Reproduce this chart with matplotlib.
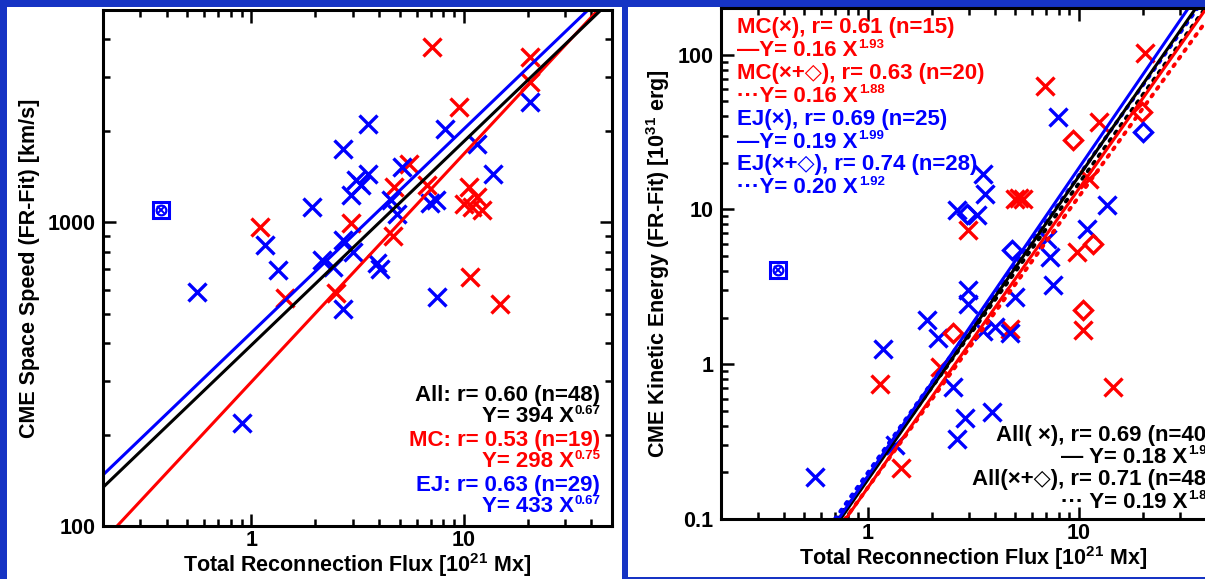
import matplotlib
matplotlib.use("Agg")
import matplotlib.pyplot as plt
import numpy as np
from matplotlib.ticker import LogLocator, FuncFormatter, NullFormatter
from matplotlib.patches import Rectangle

plt.rcParams['font.family'] = ['Liberation Sans', 'DejaVu Sans']
plt.rcParams['font.weight'] = 'bold'
plt.rcParams['axes.labelweight'] = 'bold'
plt.rcParams['mathtext.fontset'] = 'custom'
plt.rcParams['mathtext.rm'] = 'Liberation Sans:bold'
plt.rcParams['mathtext.it'] = 'Liberation Sans:bold'
plt.rcParams['mathtext.bf'] = 'Liberation Sans:bold'

# ---- left panel: speed vs flux ----
mc_flux = [1.10, 1.44, 2.51, 2.95, 4.63, 4.7, 5.53, 6.74, 7.11, 9.48, 10.0, 10.55, 10.9, 11.5, 12.2, 10.7, 14.8, 20.5, 20.5]
mc_speed = [965, 565, 583, 991, 900, 1306, 1560, 1325, 3775, 2393, 1150, 1306, 1122, 1211, 1094, 661, 540, 3500, 2897]
ej_flux = [0.557, 0.904, 1.163, 1.34, 1.92, 2.14, 2.42, 2.70, 2.70, 2.70, 2.95, 3.12, 3.30, 3.53, 3.53,
           3.90, 4.05, 4.54, 4.88, 5.15, 6.98, 7.4, 7.50, 8.21, 11.5, 13.8, 20.5, 3.0]
ej_speed = [590, 218, 840, 695, 1122, 750, 713, 1746, 873, 520, 1227, 1374, 1330, 2113, 1445,
            735, 700, 1180, 1067, 1521, 1160, 1185, 568, 2033, 1815, 1445, 2488, 800]
odd_flux, odd_speed = 0.376, 1094

# fits: (coef, exponent)
fit_all_v = (394, 0.67)
fit_mc_v = (298, 0.75)
fit_ej_v = (433, 0.67)

# ---- right panel: kinetic energy vs flux ----
mcx_flux = [6.90, 12.4, 20.6, 5.0, 5.4, 2.99, 9.75, 11.1, 10.5, 14.5, 1.14, 1.44, 4.71, 2.19, 5.2]
mcx_ek = [63, 36.6, 103, 11.7, 11.7, 7.33, 5.3, 15.8, 1.66, 0.715, 0.75, 0.212, 1.70, 0.96, 11.9]
mcd_flux = [9.4, 19.8, 11.7, 10.5, 2.54]
mcd_ek = [27.9, 42.5, 6.0, 2.23, 1.58]
ejx_flux = [7.98, 3.52, 3.59, 2.63, 3.27, 13.5, 10.9, 7.3, 7.56, 2.99, 2.99, 4.97, 1.90, 2.15,
            4.0, 4.71, 1.18, 2.54, 2.88, 3.85, 2.63, 0.561, 1.34, 7.03, 3.5]
ejx_ek = [39.5, 17.0, 12.6, 9.86, 9.14, 10.6, 7.5, 4.92, 3.24, 3.0, 2.46, 2.72, 1.92, 1.47,
          1.74, 1.58, 1.26, 0.715, 0.446, 0.49, 0.33, 0.187, 0.30, 6.47, 1.65]
ejd_flux = [20.2, 4.80, 2.94]
ejd_ek = [31.6, 5.43, 9.4]
odd_ek = 4.04

fit_mcx = (0.16, 1.93)
fit_mcd = (0.16, 1.88)
fit_ejx = (0.19, 1.99)
fit_ejd = (0.20, 1.92)
fit_allx = (0.18, 1.96)
fit_alld = (0.19, 1.89)

RED = '#ff0000'
BLUE = '#0000ff'
FS = 15.5      # tick labels, axis labels
FS_TXT = 16    # fit annotations
FS_EXP = 9.5   # exponents in the fit annotations
EXP_UP = 4.5   # exponent raise, points

fig = plt.figure(figsize=(12.05, 5.79), dpi=100)
fig.patch.set_facecolor('#1634c4')
# white slide areas
fig.add_artist(Rectangle((7/1205, 0), (622-7)/1205, 572/579, transform=fig.transFigure,
                         facecolor='white', edgecolor='none', zorder=0))
fig.add_artist(Rectangle((628/1205, 2/579), (1205-628)/1205, 570/579, transform=fig.transFigure,
                         facecolor='white', edgecolor='none', zorder=0))


def style_axes(ax):
    ax.set_xscale('log')
    ax.set_yscale('log')
    ax.set_facecolor('none')
    for s in ax.spines.values():
        s.set_linewidth(2.2)
    ax.tick_params(which='both', direction='in', top=True, right=True, width=1.8, labelsize=FS, pad=5)
    ax.tick_params(axis='x', pad=3)
    ax.tick_params(which='major', length=9)
    ax.tick_params(which='minor', length=5)
    ax.xaxis.set_minor_locator(LogLocator(base=10, subs=np.arange(2, 10)))
    ax.yaxis.set_minor_locator(LogLocator(base=10, subs=np.arange(2, 10)))
    ax.xaxis.set_minor_formatter(NullFormatter())
    ax.yaxis.set_minor_formatter(NullFormatter())
    fmt = FuncFormatter(lambda v, p: '%g' % v)
    ax.xaxis.set_major_formatter(fmt)
    ax.yaxis.set_major_formatter(fmt)


def odd_marker(ax, x, y):
    ax.plot(x, y, 's', ms=11, mfc='none', mec=BLUE, mew=2.2)
    ax.plot(x, y, 'o', ms=7, mfc='none', mec=BLUE, mew=1.6)
    ax.plot(x, y, 'x', ms=6, mec=BLUE, mew=1.4)


def power_right(ax, x, yb, base, expo, color):
    # right-aligned "Y= a X" (centre at yb) with small raised exponent at the end
    up = EXP_UP * 100 / 72 / (ax.bbox.height)
    e = ax.text(x, yb + up, expo, fontsize=FS_EXP, color=color, ha='right', va='center',
                transform=ax.transAxes)
    ax.annotate(base, xy=(0, 0.5), xycoords=e, xytext=(-0.5, -EXP_UP), textcoords='offset points',
                fontsize=FS_TXT, color=color, ha='right', va='center')


def power_left(ax, x, yb, base, expo, color):
    b = ax.text(x, yb, base, fontsize=FS_TXT, color=color, ha='left', va='center',
                transform=ax.transAxes)
    ax.annotate(expo, xy=(1, 0.5), xycoords=b, xytext=(0.5, EXP_UP), textcoords='offset points',
                fontsize=FS_EXP, color=color, ha='left', va='center')


xfit = np.logspace(np.log10(0.2), np.log10(50), 200)

# ---------- left panel ----------
ax1 = fig.add_axes([103/1205, 53/579, 509/1205, 516/579])
style_axes(ax1)
ax1.set_xlim(0.2, 50)
ax1.set_ylim(100, 5000)
mk = dict(ls='none', marker='x', ms=13, mew=2.4)
ax1.plot(mc_flux, mc_speed, color=RED, **mk)
ax1.plot(ej_flux, ej_speed, color=BLUE, **mk)
odd_marker(ax1, odd_flux, odd_speed)
ax1.plot(xfit, fit_mc_v[0] * xfit ** fit_mc_v[1], color=RED, lw=2.2)
ax1.plot(xfit, fit_ej_v[0] * xfit ** fit_ej_v[1], color=BLUE, lw=2.2)
ax1.plot(xfit, fit_all_v[0] * xfit ** fit_all_v[1], color='black', lw=2.2)
ax1.set_xlabel(r'Total Reconnection Flux [10$^{21}$ Mx]', fontsize=FS, labelpad=0)
ax1.set_ylabel('CME Space Speed (FR-Fit) [km/s]', fontsize=FS, labelpad=6)

left_stats = [
    ('All: r= 0.60 (n=48)', 'Y= 394 X', '0.67', 'black'),
    ('MC: r= 0.53 (n=19)', 'Y= 298 X', '0.75', RED),
    ('EJ: r= 0.63 (n=29)', 'Y= 433 X', '0.67', BLUE),
]
for i, (head, base, expo, c) in enumerate(left_stats):
    y0 = 0.252 - i * 45 / 516
    ax1.text(0.977, y0, head, color=c, fontsize=FS_TXT, ha='right', va='center',
             transform=ax1.transAxes)
    power_right(ax1, 0.977, y0 - 21 / 516, base, expo, c)

# ---------- right panel ----------
ax2 = fig.add_axes([720.5/1205, 60/579, 506/1205, 511/579])
style_axes(ax2)
ax2.set_xlim(0.2, 50)
ax2.set_ylim(0.1, 200)
ax2.plot(mcx_flux, mcx_ek, color=RED, **mk)
ax2.plot(ejx_flux, ejx_ek, color=BLUE, **mk)
dk = dict(ls='none', marker='D', ms=9, mew=2.4, mfc='none')
ax2.plot(mcd_flux, mcd_ek, mec=RED, **dk)
ax2.plot(ejd_flux, ejd_ek, mec=BLUE, **dk)
odd_marker(ax2, odd_flux, odd_ek)
dotted = dict(ls=(0, (0.6, 1.8)), lw=2.8, dash_capstyle='round')
ax2.plot(xfit, fit_mcd[0] * xfit ** fit_mcd[1], color=RED, **dotted)
ax2.plot(xfit, fit_alld[0] * xfit ** fit_alld[1], color='black', **dotted)
ax2.plot(xfit, fit_ejd[0] * xfit ** fit_ejd[1], color=BLUE, **dotted)
ax2.plot(xfit, fit_mcx[0] * xfit ** fit_mcx[1], color=RED, lw=2.2)
ax2.plot(xfit, fit_allx[0] * xfit ** fit_allx[1], color='black', lw=2.2)
ax2.plot(xfit, fit_ejx[0] * xfit ** fit_ejx[1], color=BLUE, lw=2.2)
ax2.set_xlabel(r'Total Reconnection Flux [10$^{21}$ Mx]', fontsize=FS, labelpad=0)
ax2.set_ylabel(r'CME Kinetic Energy (FR-Fit) [10$^{31}$ erg]', fontsize=FS, labelpad=4)

right_stats = [
    ('MC(×), r= 0.61 (n=15)', '—Y= 0.16 X', '1.93', RED),
    ('MC(×+◇), r= 0.63 (n=20)', '···Y= 0.16 X', '1.88', RED),
    ('EJ(×), r= 0.69 (n=25)', '—Y= 0.19 X', '1.99', BLUE),
    ('EJ(×+◇), r= 0.74 (n=28)', '···Y= 0.20 X', '1.92', BLUE),
]
for i, (head, base, expo, c) in enumerate(right_stats):
    y0 = 0.961 - 2 * i * 0.0447
    ax2.text(0.033, y0, head, color=c, fontsize=FS_TXT, ha='left', va='center',
             transform=ax2.transAxes)
    power_left(ax2, 0.033, y0 - 0.0447, base, expo, c)

all_stats = [
    ('All( ×), r= 0.69 (n=40)', '— Y= 0.18 X', '1.96'),
    ('All(×+◇), r= 0.71 (n=48)', '··· Y= 0.19 X', '1.89'),
]
for i, (head, base, expo) in enumerate(all_stats):
    y0 = 0.164 - 2 * i * 0.0437
    ax2.text(0.975, y0, head, color='black', fontsize=FS_TXT, ha='right', va='center',
             transform=ax2.transAxes)
    power_right(ax2, 0.975, y0 - 0.0437, base, expo, 'black')

# blue divider bar between the two slides
fig.add_artist(Rectangle((622/1205, 0), 6/1205, 1, transform=fig.transFigure,
                         facecolor='#1634c4', edgecolor='none', zorder=5))

fig.savefig('out.png', dpi=100, facecolor=fig.get_facecolor())
